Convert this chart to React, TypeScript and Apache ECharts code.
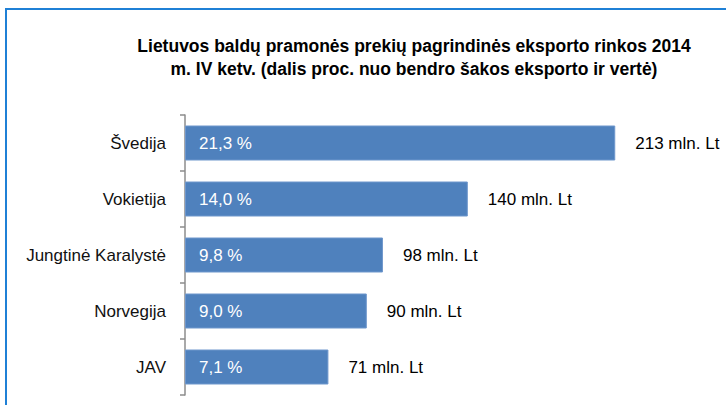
import React, { useEffect, useRef } from "react";
import * as echarts from "echarts";

const categories = ["Švedija", "Vokietija", "Jungtinė Karalystė", "Norvegija", "JAV"];
const valuesMlnLt = [213, 140, 98, 90, 71];
const sharePercent = ["21,3", "14,0", "9,8", "9,0", "7,1"];
const titleText =
  "Lietuvos baldų pramonės prekių pagrindinės eksporto rinkos 2014\nm. IV ketv. (dalis proc. nuo bendro šakos eksporto ir vertė)";

const FONT = '"Liberation Sans Narrow", "Arial Narrow", "Liberation Sans", Arial, sans-serif';

export default function App() {
  const ref = useRef<HTMLDivElement>(null);
  useEffect(() => {
    document.body.style.margin = "0";
    const chart = echarts.init(ref.current!, undefined, { renderer: "svg" });
    chart.setOption({
      animation: false,
      backgroundColor: "#ffffff",
      textStyle: { fontFamily: FONT },
      title: {
        text: titleText,
        left: 409,
        top: 29,
        textAlign: "center",
        textStyle: {
          fontFamily: FONT,
          fontWeight: "bold",
          fontSize: 17.5,
          lineHeight: 23,
          color: "#000000",
        },
      },
      graphic: [
        {
          type: "rect",
          shape: { x: 6, y: 9, width: 760, height: 430 },
          style: { fill: "none", stroke: "#1f80d6", lineWidth: 2 },
          silent: true,
        },
      ],
      grid: { left: 185, right: 36, top: 115, bottom: 10, containLabel: false },
      xAxis: {
        type: "value",
        min: 0,
        max: 250,
        show: false,
        splitLine: { show: false },
      },
      yAxis: {
        type: "category",
        data: categories,
        inverse: true,
        axisLine: { show: true, lineStyle: { color: "#8c8c8c", width: 1.5 } },
        axisTick: { show: true, length: 5, lineStyle: { color: "#8c8c8c", width: 1.5 } },
        axisLabel: {
          fontFamily: FONT,
          fontSize: 17,
          color: "#111111",
          margin: 19,
        },
      },
      series: [
        {
          type: "bar",
          data: valuesMlnLt,
          barWidth: 35,
          itemStyle: { color: "#4f81bd", borderColor: "#6f97cc", borderWidth: 1 },
          label: {
            show: true,
            position: "insideLeft",
            distance: 14,
            color: "#ffffff",
            fontFamily: FONT,
            fontSize: 17,
            formatter: (p: any) => sharePercent[p.dataIndex] + " %",
          },
          z: 2,
        },
        {
          type: "bar",
          data: valuesMlnLt,
          barWidth: 35,
          barGap: "-100%",
          itemStyle: { color: "rgba(0,0,0,0)" },
          label: {
            show: true,
            position: "right",
            distance: 20,
            color: "#000000",
            fontFamily: FONT,
            fontSize: 17,
            formatter: (p: any) => p.value + " mln. Lt",
          },
          z: 3,
        },
      ],
    });
    return () => chart.dispose();
  }, []);
  return <div ref={ref} style={{ width: 726, height: 405 }} />;
}
